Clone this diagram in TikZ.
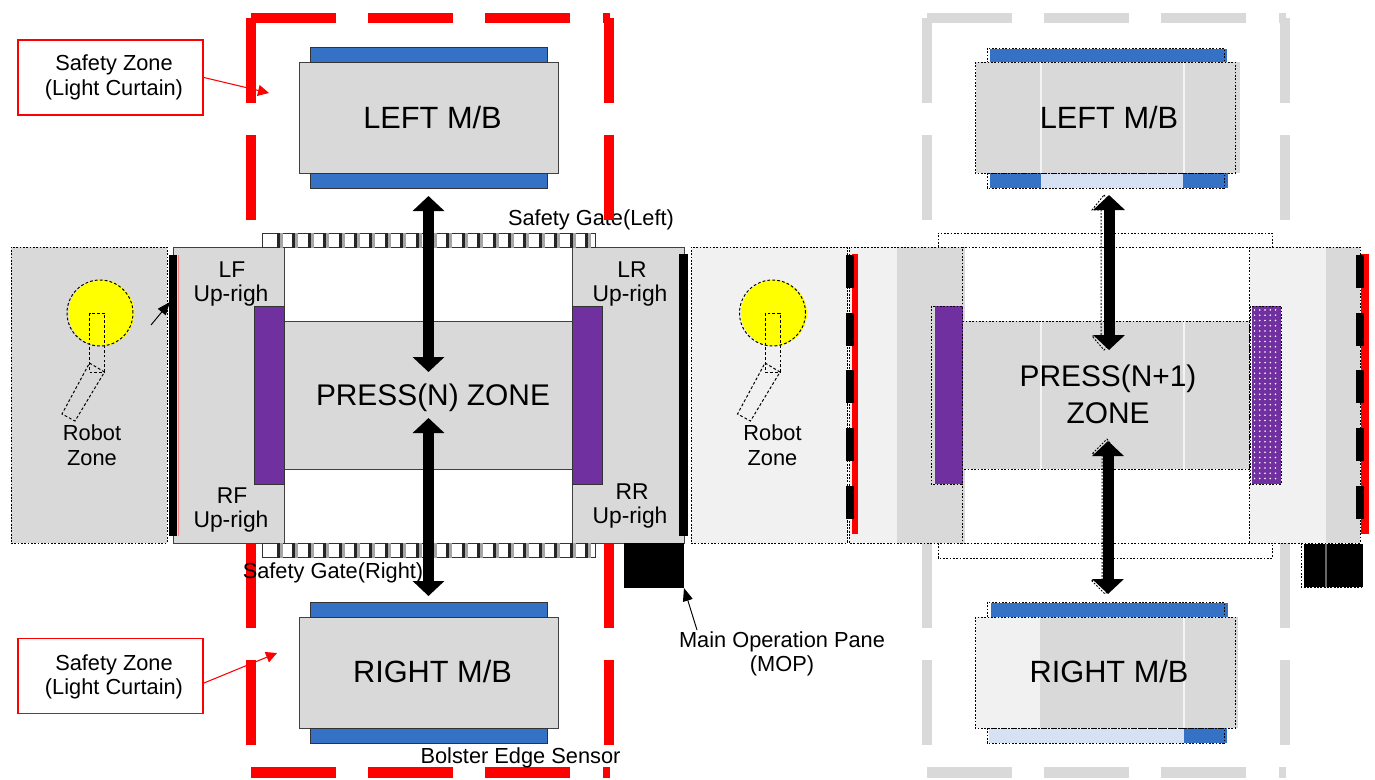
\documentclass[tikz,border=0pt]{standalone}
\usepackage{fontspec}
\setmainfont{Liberation Sans}
\usetikzlibrary{arrows.meta,patterns,positioning}
\definecolor{mbgray}{HTML}{D9D9D9}
\definecolor{lightzone}{HTML}{F1F1F1}
\definecolor{framegray}{HTML}{D9D9D9}
\definecolor{bolsterblue}{HTML}{3572C6}
\definecolor{bolsterlight}{HTML}{D6E2F3}
\definecolor{uprightpurple}{HTML}{7030A0}
\definecolor{robotyellow}{HTML}{FFFF00}
\tikzset{
    press diagram/.style = {x=0.02cm, y=-0.02cm},
    line/.style        = {line width=0.55pt},
    block/.style       = {draw=black!75, line width=0.5pt, fill=mbgray, outer sep=0pt, inner sep=0pt},
    mbblock/.style     = {block, minimum width=5.18cm, minimum height=2.22cm},
    bolster/.style     = {draw=black!80, line width=0.5pt, fill=bolsterblue, outer sep=0pt, inner sep=0pt,
                          minimum width=4.74cm, minimum height=0.3cm},
    upright/.style     = {block, draw=black!80, fill=uprightpurple},
    ghost/.style       = {draw=black, dash pattern=on 1pt off 0.9pt, line width=0.55pt},
    callout/.style     = {draw=red, line width=1.1pt, fill=white,
                          minimum width=3.7cm, minimum height=1.5cm, inner sep=0pt},
    sig/.style         = {font=\fontsize{12.4}{14}\selectfont},
    uplabel/.style     = {font=\fontsize{13}{15}\selectfont},
    zonelabel/.style   = {font=\fontsize{17.5}{20}\selectfont},
    presslabel/.style  = {font=\fontsize{17}{20}\selectfont},
    pressarrow/.style  = {line width=0.22cm, {Triangle[length=0.3cm,width=0.62cm]}-{Triangle[length=0.3cm,width=0.62cm]}},
    redpointer/.style  = {draw=red, line width=0.6pt, -{Triangle[length=0.22cm,width=0.22cm]}},
    blackpointer/.style = {line, -{Triangle[length=0.26cm,width=0.2cm]}}
}
\begin{document}
\begin{tikzpicture}[press diagram]
\useasboundingbox (0,0) rectangle (1375,779);

% ================= Safety gate label (under the frame) =================
\node[sig] (gateleftlabel) at (591,219.5) {Safety Gate(Left)};

% ================= Light curtain frames =================
\foreach \fx/\fcol in {0/red, 676/framegray} {
    \foreach \sx/\sw in {251/85, 368/85, 485/85, 603/7} {
        \fill[\fcol] (\fx+\sx,13) rectangle ++(\sw,10);
        \fill[\fcol] (\fx+\sx,767) rectangle ++(\sw,11);
    }
    \foreach \sx in {246, 604} {
        \foreach \sy in {18, 135, 543, 660}
            \fill[\fcol] (\fx+\sx,\sy) rectangle ++(10,85);
    }
}

% ================= Press (N) =================
\node[draw=black, line width=0.5pt, fill=white, minimum width=5.76cm, minimum height=5.92cm] (pressframe) at (428,395) {};
\node[block, minimum width=5.76cm, minimum height=2.96cm] (presszone) at (428,395) {};
\node[block, minimum width=2.22cm, minimum height=5.92cm] (lfcol) at (228.5,395) {};
\node[block, minimum width=2.24cm, minimum height=5.92cm] (lrcol) at (628,395) {};
\node[upright, minimum width=0.6cm, minimum height=3.56cm] (purplelf) at (269,395) {};
\node[upright, minimum width=0.6cm, minimum height=3.56cm] (purplelr) at (587,395) {};
\fill[black] (169,255) rectangle (177,536);
\draw[red!50, line width=0.5pt] (178,255) -- (178,536);
\fill[black] (679,254) rectangle (688,536);
\node[uplabel] (lflabel) at (232,270) {LF};
\node[uplabel] (lfup) at (231,296) {Up-righ};
\node[uplabel] (rflabel) at (232,496) {RF};
\node[uplabel] (rfup) at (231,522) {Up-righ};
\node[uplabel] (lrlabel) at (632,270) {LR};
\node[uplabel] (lrup) at (630,296) {Up-righ};
\node[uplabel] (rrlabel) at (632,492) {RR};
\node[uplabel] (rrup) at (630,518) {Up-righ};
\node[presslabel] (pressnlabel) at (433,398) {PRESS(N) ZONE};

% ================= Safety gates =================
\foreach \gy in {233, 543} {
    \draw[line, fill=white, draw=black!80] (262,\gy) rectangle (595,\gy+14.5);
    \foreach \i in {0,...,20} {
        \fill[black!35] (280+15.4*\i,\gy) rectangle ++(3,14.5);
        \fill[black!85] (277+15.4*\i,\gy) rectangle ++(3,14.5);
    }
}
\node[sig] (gaterightlabel) at (333,572.5) {Safety Gate(Right)};

% ================= Moving bolsters =================
\node[mbblock] (leftmb) at (428.5,117.5) {};
\node[bolster, above=0pt of leftmb] (leftmbtop) {};
\node[bolster, below=0pt of leftmb] (leftmbbot) {};
\node[zonelabel] (leftmblabel) at (432.5,118) {LEFT M/B};
\node[mbblock] (rightmb) at (428.5,672.5) {};
\node[bolster, above=0pt of rightmb] (rightmbtop) {};
\node[bolster, below=0pt of rightmb] (rightmbbot) {};
\node[zonelabel] (rightmblabel) at (432.5,671) {RIGHT M/B};
\node[sig] (bolsterlabel) at (520.5,758) {Bolster Edge Sensor};

% ================= Callouts =================
\node[callout] (safetytop) at (110.5,77.5) {};
\node[sig] (safetytoplabel) at (114,65) {Safety Zone};
\node[sig] (safetytoplabelb) at (114,90) {(Light Curtain)};
\node[callout] (safetybot) at (110.5,676) {};
\node[sig] (safetybotlabel) at (114,664.5) {Safety Zone};
\node[sig] (safetybotlabelb) at (114,689) {(Light Curtain)};
\coordinate (safetytoptip) at (269,93);
\coordinate (safetybottip) at (277,653);
\draw[redpointer] (safetytop.east) -- (safetytoptip);
\draw[redpointer] ([yshift=-1.4mm]safetybot.east) -- (safetybottip);

% ================= Press (N) motion arrows =================
\coordinate (nuppera) at (428.5,196);
\coordinate (nupperb) at (428.5,372);
\coordinate (nlowera) at (428.5,418);
\coordinate (nlowerb) at (428.5,596);
\draw[pressarrow] (nuppera) -- (nupperb);
\draw[pressarrow] (nlowera) -- (nlowerb);

% ================= Robot zones =================
\node[ghost, fill=mbgray, minimum width=3.12cm, minimum height=5.92cm] (robotzonea) at (89,395) {};
\node[ghost, fill=lightzone, minimum width=3.12cm, minimum height=5.92cm] (robotzoneb) at (769,395) {};
\foreach \cx/\ax/\tx in {100/0/92, 772.5/675.5/772.5} {
    \fill[robotyellow] (\cx+1.5,313) circle (0.66cm);
    \draw[ghost, dash pattern=on 1.6pt off 1.2pt] (\cx,313) circle (0.66cm);
    \draw[ghost, dash pattern=on 1.6pt off 1.2pt] (\ax+89.5,313) rectangle (\ax+104.5,372);
    \draw[ghost, dash pattern=on 1.6pt off 1.2pt] (\ax+89.5,363) -- (\ax+104.5,372) -- (\ax+75,421) -- (\ax+62,414) -- cycle;
    \node[sig] at (\tx,433) {Robot};
    \node[sig] at (\tx,458) {Zone};
}
\coordinate (robotarrowa) at (151,325);
\coordinate (robotarrowb) at (170,302);
\draw[blackpointer] (robotarrowa) -- (robotarrowb);

% ================= Main operation panel =================
\node[fill=black, minimum width=1.2cm, minimum height=0.9cm, inner sep=0pt, outer sep=0pt] (mop) at (654,565.5) {};
\node[sig] (moplabel) at (782,641.5) {Main Operation Pane};
\node[sig] (moplabelb) at (782,666) {(MOP)};
\coordinate (mopstart) at (697,630);
\draw[blackpointer] (mopstart) -- (mop.south east);

% ================= Press (N+1) =================
\fill[lightzone] (849,247) rectangle (897,543);
\fill[mbgray] (897,247) rectangle (965,543);
\fill[lightzone] (1250,247) rectangle (1326,543);
\fill[mbgray] (1326,247) rectangle (1360,543);
\fill[mbgray] (963,321) rectangle (1249,469);
\foreach \lx in {1041,1184}
    \draw[white!70!mbgray, line width=0.6pt] (\lx,321) -- (\lx,469);
\draw[ghost] (849,247) rectangle (962,543);
\draw[ghost] (962,247) -- (1360,247) -- (1360,543) -- (962,543);
\draw[ghost] (1249,247) -- (1249,543);
\draw[ghost] (962,321) rectangle (1249,469);
\draw[ghost] (938,247) -- (938,233) -- (1272,233) -- (1272,247);
\draw[ghost] (938,543) -- (938,558) -- (1272,558) -- (1272,543);
\fill[uprightpurple] (935,306) rectangle (963,484);
\draw[ghost] (931,306) rectangle (962,484);
\fill[uprightpurple] (1252,306) rectangle (1281,484);
\fill[pattern=dots, pattern color=white] (1254,308) rectangle (1279,482);
\draw[ghost] (1250,306) rectangle (1281,484);
\fill[red] (1361,254) rectangle (1369,534);
\fill[red] (852,254) rectangle (858,534);
\foreach \by in {255,312.5,370,428,486} {
    \fill[black] (846,\by) rectangle ++(8,33);
    \fill[black] (1356,\by) rectangle ++(8,33);
}
\draw[ghost] (847.5,247) -- (847.5,543);
\node[presslabel] (pressnnlabel) at (1108,378.5) {PRESS(N+1)};
\node[presslabel] (pressnnzone) at (1108,413) {ZONE};

% ================= Press (N+1) bolsters =================
\fill[bolsterblue] (990,49) rectangle (1227,63);
\draw[ghost] (987,48) rectangle (1224,63);
\fill[bolsterblue] (990,173) rectangle (1228,188);
\fill[bolsterlight] (1041,173) rectangle (1183,188);
\draw[ghost] (987,173) rectangle (1224,188);
\fill[mbgray] (976,62) rectangle (1240,173);
\foreach \lx in {1041,1184}
    \draw[white!70!mbgray, line width=0.6pt] (\lx,62) -- (\lx,173);
\draw[ghost] (975,62) rectangle (1235,173);
\node[zonelabel] (leftmbblabel) at (1109,118) {LEFT M/B};

\fill[bolsterblue] (991,603) rectangle (1228,617);
\draw[ghost] (987,602) rectangle (1224,617);
\fill[bolsterblue] (1184,728) rectangle (1227,743);
\fill[bolsterlight] (989,729) rectangle (1184,743);
\draw[ghost] (987,728) rectangle (1224,743);
\fill[mbgray] (1040,617) rectangle (1238,728);
\fill[lightzone] (976,617) rectangle (1040,728);
\draw[white!70!mbgray, line width=0.6pt] (1184,617) -- (1184,728);
\draw[ghost] (975,617) rectangle (1235,728);
\node[zonelabel] (rightmbblabel) at (1109,671) {RIGHT M/B};

% ================= Press (N+1) motion arrows =================
\draw[ghost] (1104,195) -- (1116,210) -- (1107,210) -- (1107,336) -- (1116,336) -- (1104,350)
    -- (1092,336) -- (1101,336) -- (1101,210) -- (1092,210) -- cycle;
\draw[ghost] (1107,439) -- (1118,454) -- (1110,454) -- (1110,580) -- (1118,580) -- (1105,594)
    -- (1091,580) -- (1102,580) -- (1102,454) -- (1092,454) -- cycle;
\coordinate (nnuppera) at (1109,195);
\coordinate (nnupperb) at (1109,350);
\coordinate (nnlowera) at (1108,441);
\coordinate (nnlowerb) at (1108,594);
\draw[pressarrow] (nnuppera) -- (nnupperb);
\draw[pressarrow] (nnlowera) -- (nnlowerb);

% ================= Second operation panel =================
\fill[black] (1304,544) rectangle (1363,587);
\draw[black!60, line width=0.6pt] (1326,544) -- (1326,587);
\draw[ghost] (1301,543) -- (1301,587) -- (1363,587);
\end{tikzpicture}
\end{document}
